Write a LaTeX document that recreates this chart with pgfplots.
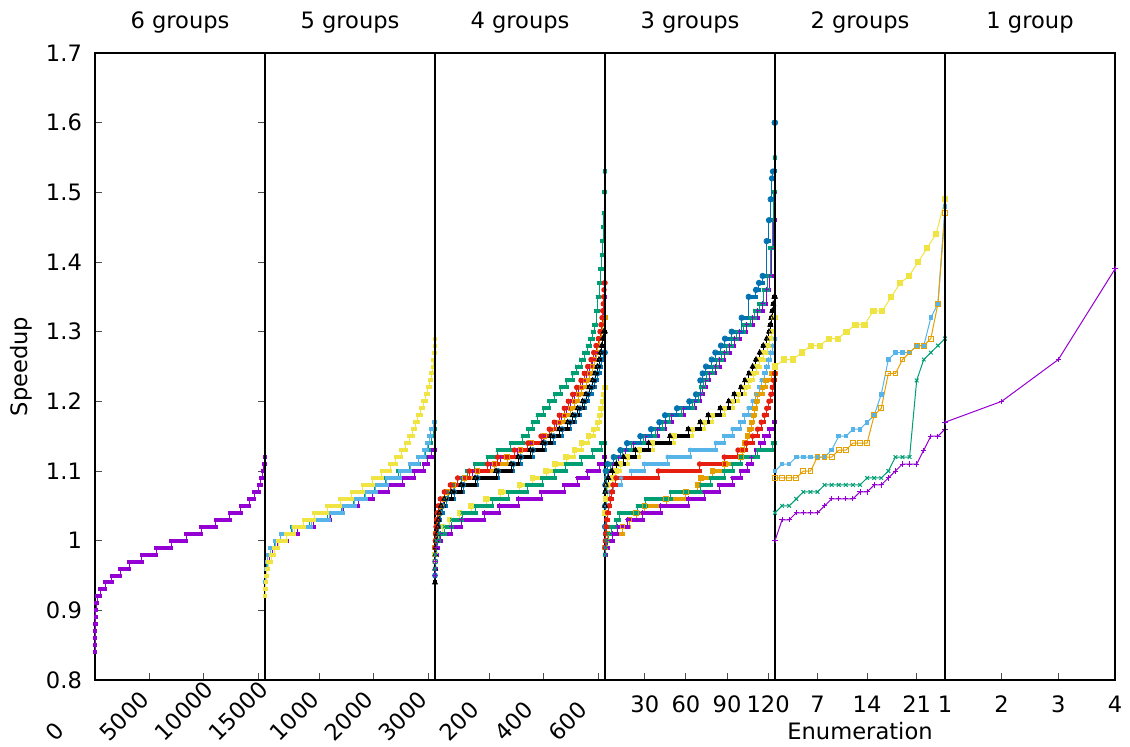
\documentclass[border=0pt]{standalone}
\usepackage{fontspec}
\setmainfont{DejaVu Sans}
\usepackage{pgfplots}
\usepackage{pgfplotstable}
\pgfplotsset{compat=1.18}
\definecolor{cP}{HTML}{9400D3}
\definecolor{cG}{HTML}{009E73}
\definecolor{cL}{HTML}{56B4E9}
\definecolor{cO}{HTML}{E69F00}
\definecolor{cY}{HTML}{F0E442}
\definecolor{cB}{HTML}{0072B2}
\definecolor{cR}{HTML}{E51E10}
\definecolor{cK}{HTML}{000000}
% ---------- 6 groups ----------
\pgfplotstableread{
x y
0 0.84
5 0.85
10 0.86
20 0.87
30 0.88
50 0.89
80 0.90
120 0.91
200 0.92
460 0.93
924 0.94
1540 0.95
2310 0.96
3170 0.97
4310 0.98
5640 0.99
7020 1.00
8400 1.01
9760 1.02
11090 1.03
12380 1.04
13400 1.05
14170 1.06
14630 1.07
15030 1.08
15250 1.09
15430 1.10
15520 1.11
15580 1.12
15625 1.12
}\pA
% ---------- 5 groups ----------
\pgfplotstableread{
x y
0 0.93
10 0.94
20 0.95
32 0.96
45 0.97
74 0.98
135 0.99
233 1.00
404 1.01
600 1.02
900 1.03
1200 1.04
1440 1.05
1716 1.06
1985 1.07
2261 1.08
2530 1.09
2745 1.10
2916 1.11
2990 1.12
3063 1.13
3125 1.13
}\qP
\pgfplotstableread{
x y
0 0.93
8 0.94
15 0.95
24 0.96
35 0.97
52 0.98
92 0.99
175 1.00
285 1.01
495 1.02
820 1.03
1150 1.04
1400 1.05
1625 1.06
1830 1.07
2015 1.08
2215 1.09
2450 1.10
2660 1.11
2830 1.12
2950 1.13
3010 1.14
3060 1.15
3105 1.16
3125 1.16
}\qG
\pgfplotstableread{
x y
0 0.93
8 0.94
16 0.95
26 0.96
38 0.97
55 0.98
98 0.99
184 1.00
294 1.01
509 1.02
846 1.03
1183 1.04
1428 1.05
1654 1.06
1856 1.07
2040 1.08
2242 1.09
2488 1.10
2671 1.11
2818 1.12
2929 1.13
2978 1.14
3020 1.15
3051 1.16
3100 1.17
3125 1.17
}\qL
\pgfplotstableread{
x y
0 0.92
5 0.93
10 0.94
20 0.95
35 0.96
60 0.97
111 0.98
172 0.99
245 1.00
386 1.01
539 1.02
711 1.03
907 1.04
1140 1.05
1385 1.06
1599 1.07
1795 1.08
1979 1.09
2145 1.10
2298 1.11
2402 1.12
2500 1.13
2586 1.14
2653 1.15
2715 1.16
2764 1.17
2810 1.18
2860 1.19
2910 1.20
2955 1.21
2995 1.22
3030 1.23
3058 1.24
3080 1.25
3097 1.26
3108 1.27
3116 1.28
3121 1.29
3125 1.29
}\qY
% ---------- 4 groups ----------
\pgfplotstableread{
x y
0 0.98
5 1.00
8 1.01
10 1.02
13 1.03
17 1.04
22 1.05
30 1.06
45 1.07
68 1.08
96 1.09
138 1.10
204 1.11
242 1.12
302 1.13
350 1.14
398 1.15
428 1.16
447 1.17
466 1.18
484 1.19
499 1.20
514 1.21
528 1.22
544 1.23
556 1.24
568 1.25
580 1.26
590 1.27
598 1.28
605 1.29
610 1.30
614 1.31
617 1.32
619 1.33
621 1.34
623 1.35
625 1.35
}\rP
\pgfplotstableread{
x y
0 0.95
1.2 0.97
2.5 0.99
3 1.00
3.7 1.01
6.1 1.02
9.8 1.03
14.7 1.04
22 1.05
34 1.06
50 1.07
71 1.08
98 1.09
118 1.10
147 1.11
194 1.12
230 1.13
279 1.14
322 1.15
343 1.16
359 1.17
377 1.18
400 1.19
420 1.20
441 1.21
463 1.22
485 1.23
506 1.24
522 1.25
537 1.26
549 1.27
561 1.28
571 1.29
580 1.30
586 1.31
592 1.33
598 1.35
604 1.37
608 1.39
613 1.41
615 1.43
618 1.45
620 1.47
623 1.50
624 1.53
625 1.53
}\rG
\pgfplotstableread{
x y
0 0.99
2.5 1.00
3.7 1.01
6.1 1.02
9.8 1.03
15.9 1.04
24.5 1.05
34.3 1.06
46.6 1.07
68.6 1.08
107.8 1.09
156.9 1.10
218.1 1.11
264.7 1.12
313.7 1.13
352.9 1.14
402.0 1.15
428.9 1.16
457.1 1.17
475.5 1.18
497.6 1.19
512.3 1.20
527.0 1.21
539.2 1.22
555.2 1.23
567.4 1.24
579.7 1.25
585.8 1.26
591.9 1.27
598.0 1.28
604.2 1.29
610.3 1.30
616.4 1.31
620.1 1.32
625 1.32
}\rO
\pgfplotstableread{
x y
0 0.97
0.6 0.98
1.2 0.99
3.7 1.00
12.3 1.01
28.2 1.02
52.7 1.03
89.5 1.04
132.4 1.05
187.5 1.06
242.6 1.07
310.1 1.08
359.1 1.09
408.1 1.10
441.2 1.11
481.6 1.12
512.3 1.13
539.2 1.14
563.7 1.15
583.3 1.16
598.0 1.17
605.4 1.18
610.3 1.19
615.2 1.20
618.9 1.21
622.6 1.22
625 1.22
}\rY
\pgfplotstableread{
x y
0 0.95
1 0.97
3 0.99
6 1.00
9 1.01
12 1.02
15 1.03
20 1.04
28 1.05
42 1.06
70 1.07
104 1.08
156 1.09
232 1.10
288 1.11
316 1.12
360 1.13
405 1.14
436 1.15
467 1.16
497 1.17
515 1.18
533 1.19
551 1.20
563 1.21
576 1.22
588 1.23
597 1.24
605 1.25
612 1.26
618 1.27
625 1.27
}\rB
\pgfplotstableread{
x y
0 0.99
1.2 1.00
2.5 1.01
3.7 1.02
6.1 1.03
8.6 1.04
12.3 1.05
19.6 1.06
34.3 1.07
56.4 1.08
83.3 1.09
126.2 1.10
193.6 1.11
230.4 1.12
291.7 1.13
340.7 1.14
389.7 1.15
420.3 1.16
438.7 1.17
457.1 1.18
475.5 1.19
490.2 1.20
506.1 1.21
520.8 1.22
536.7 1.23
549.0 1.24
561.3 1.25
573.5 1.26
583.3 1.27
591.9 1.28
600.5 1.29
606.6 1.30
610.3 1.31
614.0 1.32
616.4 1.33
618.9 1.34
620.1 1.35
621.3 1.36
622.6 1.37
625 1.37
}\rR
\pgfplotstableread{
x y
0 0.94
0.6 0.96
1.2 0.98
2.5 0.99
4.9 1.00
7.4 1.01
9.8 1.02
12.3 1.03
15.9 1.04
22.1 1.05
34.3 1.06
61.3 1.07
95.6 1.08
147.1 1.09
224.3 1.10
279.5 1.11
306.5 1.12
350.4 1.13
395.8 1.14
426.4 1.15
457.1 1.16
487.7 1.17
506.1 1.18
524.5 1.19
542.9 1.20
555.2 1.21
567.4 1.22
579.7 1.23
588.3 1.24
596.8 1.25
603.0 1.26
607.9 1.27
612.8 1.28
616.4 1.29
620.1 1.30
625 1.30
}\rK
\pgfplotstableread{
x y
0 0.95
1 0.96
2 0.97
3.5 0.98
5.5 0.99
10 1.00
22 1.01
59 1.02
96 1.03
181 1.04
237 1.05
306 1.06
390 1.07
475 1.08
525 1.09
561 1.10
604 1.11
623 1.12
625 1.12
}\rPb
\pgfplotstableread{
x y
0 0.96
1 0.98
5 1.00
15 1.01
35 1.02
62 1.03
100 1.04
150 1.05
210 1.06
270 1.07
340 1.08
395 1.09
440 1.10
481 1.11
537 1.12
580 1.13
612 1.14
625 1.14
}\rGb
% ---------- 3 groups ----------
\pgfplotstableread{
x y
1.0 1.01
1.24 1.04
1.49 1.07
2.22 1.09
3.43 1.10
6.11 1.11
10.72 1.12
15.59 1.13
21.91 1.14
30.90 1.15
39.41 1.16
44.76 1.17
49.62 1.18
58.37 1.19
66.64 1.20
70.53 1.21
72.47 1.22
74.66 1.23
77.09 1.24
81.23 1.25
84.63 1.26
88.03 1.27
91.92 1.28
95.32 1.29
99.21 1.30
104.08 1.31
108.94 1.32
112.34 1.33
115.99 1.34
118.66 1.36
120.85 1.38
122.55 1.42
123.77 1.46
124.74 1.50
125 1.50
}\sP
\pgfplotstableread{
x y
1.0 1.01
1.12 1.04
1.24 1.07
1.73 1.09
2.46 1.10
4.89 1.11
9.02 1.12
13.88 1.13
19.96 1.14
29.20 1.15
37.47 1.16
43.06 1.17
47.92 1.18
56.43 1.19
64.94 1.20
69.07 1.21
71.01 1.22
72.96 1.23
75.39 1.24
79.52 1.25
82.68 1.26
86.09 1.27
89.98 1.28
93.38 1.29
97.27 1.30
102.13 1.31
106.99 1.32
110.40 1.33
113.56 1.34
116.72 1.36
119.63 1.38
121.58 1.42
123.04 1.46
124.01 1.50
124.74 1.55
125 1.55
}\sG
\pgfplotstableread{
x y
1.0 1.02
1.24 1.04
1.49 1.05
1.97 1.06
4.16 1.07
6.83 1.08
12.67 1.09
19.96 1.10
29.69 1.11
46.70 1.12
63.23 1.13
81.95 1.14
88.03 1.15
94.11 1.16
99.70 1.17
102.62 1.18
105.78 1.19
108.69 1.20
111.12 1.21
113.56 1.22
115.26 1.23
117.20 1.24
118.66 1.25
120.12 1.26
121.58 1.27
123.28 1.28
124.50 1.29
125 1.29
}\sL
\pgfplotstableread{
x y
1.0 0.99
1.97 1.00
2.94 1.01
13.88 1.02
18.75 1.03
23.61 1.04
29.69 1.05
45.49 1.06
60.07 1.07
68.58 1.08
71.01 1.09
79.52 1.10
88.52 1.11
100.18 1.12
101.40 1.13
103.10 1.14
105.05 1.15
106.26 1.16
107.96 1.17
109.18 1.18
110.40 1.19
111.37 1.20
112.34 1.21
115.99 1.22
118.42 1.23
122.55 1.24
125 1.24
}\sO
\pgfplotstableread{
x y
1.0 1.04
1.5 1.06
2.5 1.08
6.3 1.09
9.0 1.10
12.2 1.11
17.5 1.12
26.0 1.13
35.8 1.14
51.3 1.15
64.7 1.16
73.4 1.17
79.3 1.18
88.0 1.19
94.1 1.20
98.2 1.21
103.1 1.22
106.0 1.23
109.0 1.24
111.6 1.25
114.0 1.26
116.7 1.27
119.4 1.28
121.3 1.29
122.8 1.30
124.3 1.32
125 1.32
}\sY
\pgfplotstableread{
x y
1.0 1.02
1.12 1.05
1.24 1.08
1.49 1.10
2.94 1.11
7.32 1.12
12.18 1.13
17.04 1.14
26.77 1.15
34.55 1.16
40.63 1.17
44.76 1.18
53.51 1.19
62.50 1.20
67.37 1.21
70.53 1.23
72.23 1.24
74.66 1.25
78.79 1.26
81.47 1.27
85.60 1.28
88.52 1.29
93.38 1.30
100.67 1.32
105.78 1.35
111.12 1.36
113.31 1.37
115.99 1.38
118.90 1.43
120.61 1.46
121.82 1.49
122.80 1.52
123.53 1.53
124.74 1.60
125 1.60
}\sB
\pgfplotstableread{
x y
1.0 0.99
1.24 1.00
1.49 1.01
1.73 1.02
2.2 1.03
2.9 1.04
3.9 1.05
4.9 1.06
5.9 1.07
6.8 1.08
9.0 1.09
40.0 1.10
70.0 1.11
88.0 1.12
98.0 1.13
104.0 1.14
108.7 1.15
112.3 1.16
115.0 1.17
117.2 1.18
119.0 1.19
120.6 1.20
122.0 1.21
123.0 1.22
124.0 1.23
124.7 1.24
125 1.24
}\sR
\pgfplotstableread{
x y
1.0 1.05
1.12 1.07
1.49 1.08
3.43 1.09
6.11 1.10
9.27 1.11
14.61 1.12
23.12 1.13
32.85 1.14
48.40 1.15
61.78 1.16
70.53 1.17
76.36 1.18
85.11 1.19
91.19 1.20
95.32 1.21
100.18 1.22
103.10 1.23
106.02 1.24
108.69 1.25
111.12 1.26
113.80 1.27
116.47 1.28
118.90 1.29
120.61 1.30
121.58 1.31
122.31 1.32
123.04 1.33
123.77 1.34
124.50 1.35
125 1.35
}\sK
\pgfplotstableread{
x y
1.0 0.98
1.49 0.99
2.94 1.00
6.59 1.01
9.75 1.02
17.53 1.03
28.47 1.04
41.84 1.05
61.78 1.06
73.44 1.07
84.38 1.08
94.11 1.09
100.18 1.10
105.05 1.11
107.96 1.12
111.12 1.13
114.29 1.14
117.20 1.15
120.85 1.16
124.50 1.17
125 1.17
}\sPb
\pgfplotstableread{
x y
1.0 0.98
1.24 0.99
1.97 1.00
3.43 1.01
5.38 1.02
9.02 1.03
11.45 1.04
24.82 1.05
30.90 1.06
49.13 1.07
71.01 1.08
78.31 1.09
88.03 1.10
94.11 1.11
100.18 1.12
112.34 1.13
123.28 1.14
125 1.14
}\sGb

\newcommand{\stairs}[3][]{%
  \addplot[const plot mark left, color=#2, line width=0.5pt, mark=none, #1] table {#3};
  \addplot[jump mark left, color=#2, line width=2pt, line cap=rect, mark=none] table {#3};
}
\newcommand{\tfont}{\fontsize{11.3}{13}\selectfont}
\pgfplotsset{
  panel/.style={scale only axis, width=85pt, height=313.5pt, ymin=0.8, ymax=1.7,
    clip=false, anchor=south west,
    axis line style={line width=0.9pt},
    tick align=inside, major tick length=3.5pt,
    every tick/.style={black!70, line width=0.5pt},
    xtick pos=left, ytick=\empty, scaled x ticks=false,
    tick label style={font=\tfont},
    /pgf/number format/assume math mode=true,
    title style={at={(0.5,1)}, anchor=center, yshift=9.2pt, font=\tfont},
    label style={font=\tfont}},
  rot/.style={xticklabel style={inner sep=0pt, xshift=-20pt, yshift=-31.3pt, rotate=45, anchor=base west}},
  flat/.style={xticklabel style={anchor=north, yshift=-4.5pt}},
}
\begin{document}
\begin{tikzpicture}
\useasboundingbox (0,0) rectangle (565pt,373pt);
% 6 groups
\begin{axis}[panel, rot, at={(47.5pt,33pt)}, xmin=0, xmax=15625,
  xtick={0,5000,10000,15000}, xticklabels={0,5000,10000,15000},
  ytick={0.8,0.9,1,1.1,1.2,1.3,1.4,1.5,1.6,1.7},
  yticklabels={0.8,0.9,1,1.1,1.2,1.3,1.4,1.5,1.6,1.7},
  ytick pos=both, yticklabel pos=left, yticklabel style={xshift=-3pt},
  title={6 groups}, ylabel={Speedup},
  ylabel style={at={(axis description cs:-0.435,0.5)}, anchor=center}]
\stairs{cP}{\pA}
\end{axis}
% 5 groups
\begin{axis}[panel, rot, at={(132.5pt,33pt)}, xmin=0, xmax=3125,
  xtick={1000,2000,3000}, xticklabels={1000,2000,3000}, title={5 groups}]
\stairs{cP}{\qP}
\stairs{cG}{\qG}
\stairs{cL}{\qL}
\stairs{cY}{\qY}
\end{axis}
% 4 groups
\begin{axis}[panel, rot, at={(217.5pt,33pt)}, xmin=0, xmax=625,
  xtick={200,400,600}, xticklabels={200,400,600}, title={4 groups}]
\stairs[mark=+, mark size=1.2pt]{cP}{\rP}
\stairs[mark=x, mark size=1.2pt]{cG}{\rG}
\stairs[mark=square, mark size=1.1pt]{cO}{\rO}
\stairs[mark=square*, mark size=1.1pt]{cY}{\rY}
\stairs[mark=o, mark size=1.2pt]{cB}{\rB}
\stairs[mark=*, mark size=1.1pt]{cR}{\rR}
\stairs[mark=triangle, mark size=1.3pt]{cK}{\rK}
\stairs[mark=+, mark size=1.2pt]{cP}{\rPb}
\stairs[mark=x, mark size=1.2pt]{cG}{\rGb}
\end{axis}
% 3 groups
\begin{axis}[panel, flat, at={(302.5pt,33pt)}, xmin=1, xmax=125,
  xtick={30,60,90,120}, xticklabels={30,60,90,120}, title={3 groups}]
\stairs[mark=+, mark size=1.2pt]{cP}{\sP}
\stairs[mark=x, mark size=1.2pt]{cG}{\sG}
\stairs[mark=asterisk, mark size=1.2pt]{cL}{\sL}
\stairs[mark=square, mark size=1.1pt]{cO}{\sO}
\stairs[mark=square*, mark size=1.1pt]{cY}{\sY}
\stairs[mark=o, mark size=1.3pt]{cB}{\sB}
\stairs[mark=*, mark size=1.1pt]{cR}{\sR}
\stairs[mark=triangle, mark size=1.3pt]{cK}{\sK}
\stairs[mark=+, mark size=1.2pt]{cP}{\sPb}
\stairs[mark=x, mark size=1.2pt]{cG}{\sGb}
\end{axis}
% 2 groups
\begin{axis}[panel, flat, at={(387.5pt,33pt)}, xmin=1, xmax=25,
  xtick={7,14,21}, xticklabels={7,14,21}, title={2 groups},
  xlabel={Enumeration},
  xlabel style={at={(axis description cs:0.5,0)}, anchor=center, yshift=-25.5pt}]
\addplot[cP, line width=0.5pt, mark=+, mark size=1.3pt] coordinates {
(1,1.00)(2,1.03)(3,1.03)(4,1.04)(5,1.04)(6,1.04)(7,1.04)(8,1.05)(9,1.06)(10,1.06)(11,1.06)(12,1.06)(13,1.07)(14,1.07)(15,1.08)(16,1.08)(17,1.09)(18,1.10)(19,1.11)(20,1.11)(21,1.11)(22,1.13)(23,1.15)(24,1.15)(25,1.16)};
\addplot[cG, line width=0.5pt, mark=x, mark size=1.3pt] coordinates {
(1,1.04)(2,1.05)(3,1.05)(4,1.06)(5,1.07)(6,1.07)(7,1.07)(8,1.08)(9,1.08)(10,1.08)(11,1.08)(12,1.08)(13,1.08)(14,1.09)(15,1.09)(16,1.09)(17,1.10)(18,1.12)(19,1.12)(20,1.12)(21,1.23)(22,1.26)(23,1.27)(24,1.28)(25,1.29)};
\addplot[cL, line width=0.5pt, mark=square*, mark size=0.9pt] coordinates {
(1,1.10)(2,1.11)(3,1.11)(4,1.12)(5,1.12)(6,1.12)(7,1.12)(8,1.12)(9,1.13)(10,1.15)(11,1.15)(12,1.16)(13,1.16)(14,1.17)(15,1.18)(16,1.21)(17,1.26)(18,1.27)(19,1.27)(20,1.27)(21,1.28)(22,1.28)(23,1.32)(24,1.34)(25,1.48)};
\addplot[cO, line width=0.5pt, mark=square, mark size=1.2pt] coordinates {
(1,1.09)(2,1.09)(3,1.09)(4,1.09)(5,1.10)(6,1.10)(7,1.12)(8,1.12)(9,1.12)(10,1.13)(11,1.13)(12,1.14)(13,1.14)(14,1.14)(15,1.18)(16,1.19)(17,1.24)(18,1.24)(19,1.26)(20,1.27)(21,1.28)(22,1.28)(23,1.29)(24,1.34)(25,1.47)};
\addplot[cY, line width=0.5pt, mark=square*, mark size=1.3pt] coordinates {
(1,1.25)(2.263,1.26)(3.526,1.26)(4.789,1.27)(6.053,1.28)(7.316,1.28)(8.579,1.29)(9.842,1.29)(11.105,1.30)(12.368,1.31)(13.632,1.31)(14.895,1.33)(16.158,1.33)(17.421,1.35)(18.684,1.37)(19.947,1.38)(21.211,1.40)(22.474,1.42)(23.737,1.44)(25,1.49)};
\end{axis}
% 1 group
\begin{axis}[panel, flat, at={(472.5pt,33pt)}, xmin=1, xmax=4,
  xtick={1,2,3,4}, xticklabels={1,2,3,4}, title={1 group}]
\addplot[cP, line width=0.5pt, mark=+, mark size=1.3pt] coordinates {(1,1.17)(2,1.20)(3,1.26)(4,1.39)};
\end{axis}
\end{tikzpicture}
\end{document}
